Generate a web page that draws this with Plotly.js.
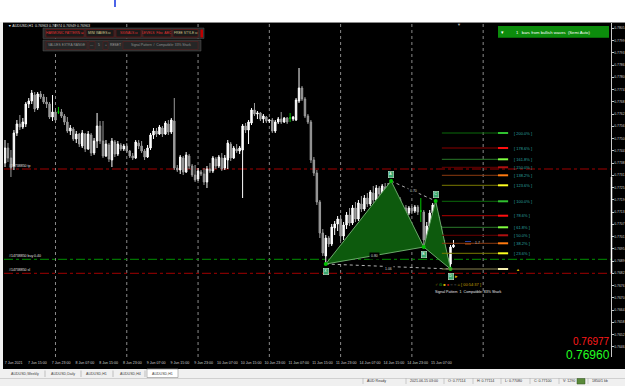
<!DOCTYPE html>
<html><head><meta charset="utf-8">
<script src="https://cdn.plot.ly/plotly-3.0.1.min.js"></script>
<style>html,body{margin:0;padding:0;background:#000;} #chart{width:625px;height:386px;}</style>
</head><body><div id="chart"></div>
<script>
// ---------------- DATA ----------------
const xTickIdx = [0,8,16,24,32,40,48,56,64,72,80,88,96,104,112,120,128,136,144];
const xTickText = ['7 Jun 2021','7 Jun 15:00','7 Jun 23:00','8 Jun 07:00','8 Jun 15:00','8 Jun 23:00','9 Jun 07:00','9 Jun 15:00','9 Jun 23:00','10 Jun 07:00','10 Jun 15:00','10 Jun 23:00','11 Jun 07:00','11 Jun 15:00','11 Jun 23:00','14 Jun 07:00','14 Jun 15:00','14 Jun 23:00','15 Jun 07:00'];
const dayStartIdx = [17,41,65,89,113,137,161];
const yTickVals = [0.78049,0.77987,0.77926,0.77865,0.77804,0.77742,0.77681,0.77620,0.77559,0.77497,0.77436,0.77375,0.77314,0.77252,0.77191,0.77130,0.77069,0.77007,0.76946,0.76885,0.76824,0.76762,0.76701,0.76640,0.76579,0.76517,0.76456];

const openP = [0.77375,0.7745,0.774,0.7736,0.77525,0.7757,0.77555,0.7757,0.7767,0.77685,
0.77715,0.7765,0.7772,0.77705,0.7768,0.7767,0.77605,0.7763,0.7763,0.7763,
0.7761,0.7758,0.77535,0.77545,0.77495,0.7752,0.7746,0.7752,0.77445,0.77515,
0.77425,0.77485,0.7756,0.77485,0.7741,0.77465,0.7739,0.7748,0.7742,0.77465,
0.77445,0.7746,0.77435,0.7741,0.774,0.77475,0.7746,0.77435,0.77405,0.7745,
0.77515,0.77535,0.7752,0.7755,0.7752,0.7757,0.7753,0.77585,0.7735,0.7734,
0.774,0.7733,0.7741,0.7736,0.77315,0.77295,0.7733,0.7732,0.7728,0.77345,
0.77335,0.77395,0.7736,0.774,0.7735,0.7739,0.7747,0.774,0.77445,0.77435,
0.7744,0.7756,0.7754,0.77575,0.7764,0.7762,0.77625,0.77595,0.77605,0.77585,
0.7759,0.77535,0.7758,0.77595,0.7758,0.776,0.776,0.77595,0.7759,0.77685,
0.7775,0.77695,0.7761,0.7758,0.7739,0.77325,0.7718,0.77025,0.7691,0.77,
0.7697,0.7705,0.7707,0.77095,0.7701,0.77065,0.77115,0.77075,0.7715,0.77095,
0.7717,0.77145,0.772,0.7717,0.77225,0.7719,0.7725,0.7722,0.77255,0.7724,
0.7726,0.77205,0.77155,0.77195,0.77115,0.7715,0.77125,0.7715,0.77135,0.77155,
0.77135,0.7713,0.7699,0.7706,0.77125,0.77165,0.77105,0.7701,0.7696,0.769,
0.7687,0.76955];
const highP = [0.7749,0.77475,0.7744,0.7754,0.7759,0.77615,0.776,0.7768,0.777,0.7774,
0.7773,0.7773,0.77735,0.7772,0.77705,0.7768,0.77715,0.7764,0.77655,0.77645,
0.7762,0.77605,0.77565,0.77555,0.77535,0.77525,0.7754,0.77525,0.77535,0.77525,
0.775,0.77625,0.77585,0.77585,0.7749,0.77475,0.775,0.7749,0.77485,0.77475,
0.7747,0.77475,0.7744,0.77425,0.7749,0.7749,0.77485,0.77445,0.77465,0.77525,
0.7755,0.7755,0.77565,0.7756,0.77585,0.7759,0.776,0.777,0.77365,0.77415,
0.7741,0.7743,0.7742,0.7737,0.77365,0.7735,0.7734,0.7735,0.7736,0.77375,
0.7741,0.77405,0.77415,0.77425,0.77415,0.7749,0.7748,0.7746,0.7747,0.7746,
0.7757,0.77575,0.7759,0.7765,0.77675,0.77635,0.7763,0.7762,0.7761,0.77595,
0.776,0.7759,0.77605,0.7763,0.77605,0.77605,0.77625,0.7761,0.777,0.7785,
0.7776,0.77705,0.7762,0.7759,0.77405,0.7734,0.7719,0.77045,0.77015,0.7701,
0.7707,0.77085,0.7711,0.77115,0.7708,0.7713,0.7715,0.77165,0.7718,0.7719,
0.7721,0.77215,0.77225,0.7724,0.7726,0.77265,0.7726,0.7727,0.77275,0.77275,
0.77285,0.7724,0.7721,0.77205,0.7716,0.77165,0.7716,0.7716,0.77165,0.77165,
0.772,0.7714,0.7708,0.7714,0.77175,0.77185,0.77115,0.7706,0.7699,0.76925,
0.76965,0.7699];
const lowP = [0.77355,0.7738,0.77305,0.7734,0.7751,0.7754,0.77545,0.77555,0.7765,0.7767,
0.7763,0.7764,0.77695,0.7767,0.7765,0.77595,0.77585,0.77575,0.7762,0.776,
0.77565,0.77525,0.77515,0.77485,0.77475,0.77455,0.7745,0.7743,0.7744,0.7741,
0.77415,0.7745,0.7747,0.774,0.77405,0.7738,0.77355,0.77405,0.7741,0.77435,
0.77435,0.77425,0.774,0.7739,0.77395,0.77445,0.77425,0.7739,0.774,0.7744,
0.77495,0.77505,0.77515,0.77505,0.77515,0.77515,0.7752,0.7734,0.7733,0.7732,
0.77315,0.77325,0.77345,0.77305,0.7728,0.77285,0.7731,0.77265,0.7725,0.77325,
0.77325,0.77345,0.7735,0.77335,0.7734,0.77345,0.77385,0.77395,0.77425,0.7742,
0.772,0.77525,0.7747,0.77565,0.7761,0.77595,0.77585,0.77575,0.77575,0.77575,
0.77525,0.77525,0.7757,0.7757,0.77575,0.7757,0.7758,0.77585,0.77585,0.77675,
0.77685,0.776,0.7757,0.77375,0.7731,0.77165,0.77,0.7691,0.7687,0.76955,
0.7696,0.77015,0.77035,0.76985,0.7699,0.77045,0.7706,0.77065,0.7708,0.77085,
0.7713,0.77135,0.77155,0.7716,0.77175,0.7718,0.77205,0.7721,0.77225,0.7723,
0.7719,0.7714,0.7713,0.771,0.77105,0.7711,0.77115,0.7712,0.77125,0.77115,
0.7708,0.76955,0.7697,0.77045,0.7711,0.7709,0.7699,0.7694,0.7688,0.7686,
0.76845,0.7695];
const closeP = [0.7745,0.774,0.7735,0.77525,0.7757,0.77555,0.7758,0.7767,0.77685,0.77725,
0.77645,0.7772,0.77705,0.7768,0.7767,0.77605,0.7763,0.7759,0.7763,0.7761,
0.7758,0.77535,0.7755,0.77495,0.7752,0.7747,0.77525,0.77445,0.7752,0.77425,
0.77485,0.7756,0.77485,0.7741,0.7747,0.77395,0.77485,0.7742,0.7747,0.77445,
0.7746,0.77435,0.7741,0.774,0.7748,0.7746,0.77435,0.77405,0.7745,0.77515,
0.77535,0.7752,0.77555,0.7752,0.77575,0.7753,0.7759,0.7735,0.7734,0.77405,
0.7733,0.77415,0.7736,0.77315,0.7729,0.77335,0.7732,0.7728,0.77345,0.77335,
0.774,0.7736,0.77405,0.77345,0.774,0.77475,0.774,0.7745,0.77435,0.7745,
0.7756,0.7754,0.7758,0.7764,0.7762,0.77625,0.77595,0.7761,0.77585,0.7759,
0.77535,0.7758,0.77595,0.7758,0.776,0.7758,0.776,0.77605,0.7769,0.7775,
0.77695,0.7761,0.7758,0.7739,0.77325,0.7718,0.77025,0.76925,0.77,0.7697,
0.77055,0.7707,0.77095,0.7701,0.77065,0.77115,0.77075,0.7715,0.77095,0.77175,
0.77145,0.772,0.7717,0.7723,0.7719,0.7725,0.7722,0.7726,0.7724,0.7726,
0.77205,0.77155,0.77195,0.77115,0.7715,0.77125,0.7715,0.77135,0.77155,0.7713,
0.77135,0.7699,0.7706,0.77125,0.77165,0.77105,0.7701,0.7696,0.769,0.7687,
0.76955,0.76965];
const dojiIdx = [18,96,140];

const patNames = ['X','A','B','C','D'];
const patIdx = [108,130,141,145,150];
const patPrice = [0.7687,0.77285,0.76955,0.77185,0.76845];
const ratioText = ['0.80','0.70','1.06']; // on XB, AC, XD

const fibText = ['200.0%','178.6%','161.8%','150.0%','138.2%','123.6%','100.0%','78.6%','61.8%','50.0%','38.2%','23.6%'];
const fibPrice = [0.77525,0.7745,0.773935,0.773535,0.773135,0.772635,0.771835,0.771115,0.770535,0.770135,0.769735,0.769235];
const fibZeroPrice = 0.76845;

const orderNames = ['#14738850 tp','#14738850 buy 0.40','#14738850 sl'];
const orderPrice = [0.77345,0.768935,0.768235];
const askBid = ['0.76977','0.76960'];

// ---------------- STYLES ----------------
const fibDark = ['#0b6a0b','#8b0000','#2a7a2a','#6a0000','#8b3a10','#7a7a00','#0b6a0b','#b00000','#2a7a2a','#6a0000','#8b3a10','#7a7a00'];
const fibBright = ['#30c030','#ff1010','#80ff40','#b01010','#ff7a10','#ffff20','#30c030','#ff1010','#80ff40','#b01010','#ff7a10','#ffff20'];

const L=4, R=611, T=23, B=357, W=R-L, H=B-T;
const xp = px => (px-L)/W;
const yp = py => (B-py)/H;
const FONT = 'Liberation Sans, Arial, sans-serif';
const LABEL_SHIFT_BARS = 2.9; // MT4 draws time labels starting at the bar

const idx = openP.map((_,i)=>i);
const normal = idx.filter(i=>dojiIdx.indexOf(i)<0);
const pick = (arr, ids) => ids.map(i=>arr[i]);

const traces = [];
traces.push({type:'scatter', mode:'lines', x:[patIdx[0],patIdx[1],patIdx[2],patIdx[0]], y:[patPrice[0],patPrice[1],patPrice[2],patPrice[0]],
  fill:'toself', fillcolor:'#0d5a0d', line:{color:'#6aaa6a',width:1}, hoverinfo:'skip', showlegend:false});
traces.push({type:'scatter', mode:'lines', x:[patIdx[2],patIdx[3],patIdx[4],patIdx[2]], y:[patPrice[2],patPrice[3],patPrice[4],patPrice[2]],
  fill:'toself', fillcolor:'#0d5a0d', line:{color:'#6aaa6a',width:1}, hoverinfo:'skip', showlegend:false});
traces.push({type:'scatter', mode:'lines', x:[patIdx[1],patIdx[3]], y:[patPrice[1],patPrice[3]], line:{color:'#b0b0b0',width:1,dash:'dot'}, hoverinfo:'skip', showlegend:false});
traces.push({type:'scatter', mode:'lines', x:[patIdx[0],patIdx[4]], y:[patPrice[0],patPrice[4]], line:{color:'#b0b0b0',width:1,dash:'dot'}, hoverinfo:'skip', showlegend:false});
traces.push({type:'candlestick', x:normal, open:pick(openP,normal), high:pick(highP,normal), low:pick(lowP,normal), close:pick(closeP,normal),
  increasing:{line:{color:'#ffffff',width:1}, fillcolor:'#ffffff'},
  decreasing:{line:{color:'#9a9a9a',width:1}, fillcolor:'#9a9a9a'},
  whiskerwidth:0, hoverinfo:'skip', showlegend:false});
traces.push({type:'candlestick', x:dojiIdx, open:pick(openP,dojiIdx), high:pick(highP,dojiIdx), low:pick(lowP,dojiIdx), close:pick(closeP,dojiIdx),
  increasing:{line:{color:'#00c800',width:1}, fillcolor:'#00c800'},
  decreasing:{line:{color:'#00c800',width:1}, fillcolor:'#00c800'},
  whiskerwidth:0, hoverinfo:'skip', showlegend:false});
traces.push({type:'scatter', mode:'markers', x:patIdx, y:patPrice, marker:{color:'#00c000',size:4}, hoverinfo:'skip', showlegend:false});

const shapes = [];
const annotations = [];
const A = o => annotations.push(Object.assign({xanchor:'center', yanchor:'middle', showarrow:false}, o));
const P = (px,py) => ({xref:'paper', yref:'paper', x:xp(px), y:yp(py)});

dayStartIdx.forEach(d=>shapes.push({type:'line', xref:'x', yref:'paper', x0:d, x1:d, y0:0, y1:1, line:{color:'#8a8a8a',width:1,dash:'dot'}, layer:'below'}));
const orderColors = ['#a00000','#009000','#a00000'];
orderPrice.forEach((p,k)=>{
  shapes.push({type:'line', xref:'paper', yref:'y', x0:0, x1:1, y0:p, y1:p, line:{color:orderColors[k],width:1,dash:'dashdot'}, layer:'below'});
  A({xref:'paper', yref:'y', x:xp(7), y:p, yshift:3, xanchor:'left', text:orderNames[k], font:{family:FONT,size:3.5,color:'#e0e0e0'}});
});
const fibX0=147.1, fibX1=166, fibX2=169.4, fibLab=170.7;
fibPrice.forEach((p,k)=>{
  shapes.push({type:'line', xref:'x', yref:'y', x0:fibX0, x1:fibX1, y0:p, y1:p, line:{color:fibDark[k],width:1}});
  shapes.push({type:'line', xref:'x', yref:'y', x0:fibX1, x1:fibX2, y0:p, y1:p, line:{color:fibBright[k],width:2}});
  A({xref:'x', yref:'y', x:fibLab, y:p, xanchor:'left', text:'[ '+fibText[k]+' ]', font:{family:FONT,size:4,color:'#2aa0a0'}});
});
shapes.push({type:'line', xref:'x', yref:'y', x0:fibX0, x1:fibX1, y0:fibZeroPrice, y1:fibZeroPrice, line:{color:'#8a8450',width:1}});
shapes.push({type:'line', xref:'x', yref:'y', x0:fibX1, x1:fibX2, y0:fibZeroPrice, y1:fibZeroPrice, line:{color:'#f5f0b0',width:2}});
A({xref:'x', yref:'y', x:fibLab+0.6, y:fibZeroPrice, xanchor:'left', text:'▲', font:{family:FONT,size:4,color:'#e0c000'}});

patNames.forEach((n,k)=>{
  const up = (n==='A'||n==='C');
  A({xref:'x', yref:'y', x:patIdx[k], y:patPrice[k], yshift: up?7:-7, text:n,
    bgcolor:'#3aa870', bordercolor:'#d8f0d8', borderwidth:0.5, borderpad:0.8, font:{family:FONT,size:3.5,color:'#ffffff'}});
});
A({xref:'x', yref:'y', x:patIdx[4], y:patPrice[4], yshift:-7, xshift:6, text:'▸', font:{family:FONT,size:5,color:'#e0c000'}});
const ratioPos = [[(patIdx[0]+patIdx[2])/2,(patPrice[0]+patPrice[2])/2],[(patIdx[1]+patIdx[3])/2,(patPrice[1]+patPrice[3])/2],[(patIdx[0]+patIdx[4])/2,(patPrice[0]+patPrice[4])/2]];
ratioText.forEach((t,k)=>A({xref:'x', yref:'y', x:ratioPos[k][0], y:ratioPos[k][1], yshift:(k===2?-2:0), text:t, bgcolor:'#000', font:{family:FONT,size:3.5,color:'#d0d0d0'}}));

shapes.push({type:'line', xref:'paper', yref:'paper', x0:xp(465), x1:xp(471), y0:yp(241.5), y1:yp(241.5), line:{color:'#2040a0',width:1}});
shapes.push({type:'line', xref:'paper', yref:'paper', x0:xp(465), x1:xp(471), y0:yp(244), y1:yp(244), line:{color:'#c05010',width:1}});
A(Object.assign(P(473,243), {xanchor:'left', text:'1.7', font:{family:FONT,size:3.5,color:'#c0c0c0'}}));

A(Object.assign(P(433,284), {xanchor:'left',
  text:'<span style="color:#d8b000">♂</span> <span style="color:#20c020">⊙</span> <span style="color:#d8b000">■</span> <span style="color:#e02020">●</span> <span style="color:#909090">○</span> <span style="color:#909090">○</span> <span style="color:#d8b000">⌂</span> <span style="color:#c8a000">[ 00:54:37 ]</span>',
  font:{family:FONT,size:4,color:'#d8b000'}}));
A(Object.assign(P(433,291.5), {xanchor:'left', text:'Signal Pattern  1  Compatible: 83% Shark', font:{family:FONT,size:3.6,color:'#e8e8e8'}}));

A(Object.assign(P(6,26), {xanchor:'left', text:'▼ AUDUSD,H1  0.76963 0.76974 0.76949 0.76963', font:{family:FONT,size:3.6,color:'#e0e0e0'}}));
A(Object.assign(P(459,24.5), {text:'▼', font:{family:FONT,size:4,color:'#b0b0b0'}}));

// top panel
shapes.push({type:'rect', xref:'paper', yref:'paper', x0:xp(43), x1:xp(204), y0:yp(38.5), y1:yp(28), fillcolor:'#2a2a2a', line:{color:'#555',width:0.5}});
shapes.push({type:'rect', xref:'paper', yref:'paper', x0:xp(43), x1:xp(201), y0:yp(51), y1:yp(40), fillcolor:'#2a2a2a', line:{color:'#555',width:0.5}});
const btns = [[46,84,'HARMONIC PATTERN ⊟','#e03030'],[86,114,'MINI WAVES ⊡','#d8c890'],[116,141,'SIGNALS ⊡','#e03030'],[143,171,'LEVELS  Fibo  ABC','#e03030'],[173,198,'FREE STYLE ⊡','#d8c890']];
btns.forEach(b=>{
  shapes.push({type:'rect', xref:'paper', yref:'paper', x0:xp(b[0]), x1:xp(b[1]), y0:yp(37), y1:yp(29.5), fillcolor:'#1a1a1a', line:{color:'#7a1010',width:0.6}});
  A(Object.assign(P((b[0]+b[1])/2,33.3), {text:b[2], font:{family:FONT,size:3.3,color:b[3]}}));
});
shapes.push({type:'rect', xref:'paper', yref:'paper', x0:xp(200.5), x1:xp(203), y0:yp(37.5), y1:yp(29.5), fillcolor:'#c00000', line:{width:0}});
const row2 = [[46,87,'VALUES EXTRA RANGE'],[89,95,'—'],[103,108,'+'],[123,198,'Signal Pattern  /  Compatible: 33% Shark']];
row2.forEach(b=>{
  shapes.push({type:'rect', xref:'paper', yref:'paper', x0:xp(b[0]), x1:xp(b[1]), y0:yp(49.5), y1:yp(41.5), fillcolor:'#262626', line:{color:'#5a2020',width:0.6}});
  A(Object.assign(P((b[0]+b[1])/2,45.5), {text:b[2], font:{family:FONT,size:3.3,color:'#909090'}}));
});
A(Object.assign(P(98.5,45.5), {text:'5', font:{family:FONT,size:3.3,color:'#a0a0a0'}}));
A(Object.assign(P(115,45.5), {text:'RESET', font:{family:FONT,size:3.3,color:'#a0a0a0'}}));

// green info box
shapes.push({type:'rect', xref:'paper', yref:'paper', x0:xp(498), x1:xp(609), y0:yp(37.7), y1:yp(26), fillcolor:'#0c8c0c', line:{width:0}});
A(Object.assign(P(502,32), {text:'▾', font:{family:FONT,size:4.5,color:'#ffffff'}}));
A(Object.assign(P(553,32), {text:'1   bars from bullish waves  (Semi Auto)', font:{family:FONT,size:4.2,color:'#ffffff'}}));

shapes.push({type:'line', xref:'paper', yref:'paper', x0:xp(611.5), x1:xp(611.5), y0:yp(273), y1:yp(177), line:{color:'#ffffff',width:1.5}});

A(Object.assign(P(611,341.5), {xanchor:'right', text:askBid[0], font:{family:FONT,size:10,color:'#ff1a1a'}, borderpad:0}));
A(Object.assign(P(611,355), {xanchor:'right', text:askBid[1], font:{family:FONT,size:12,color:'#22ff22'}, borderpad:0}));

// window chrome
shapes.push({type:'rect', xref:'paper', yref:'paper', x0:xp(0), x1:xp(625), y0:yp(22), y1:yp(0), fillcolor:'#ffffff', line:{width:0}});
shapes.push({type:'line', xref:'paper', yref:'paper', x0:xp(0), x1:xp(625), y0:yp(22.5), y1:yp(22.5), line:{color:'#8a8a8a',width:1}});
shapes.push({type:'line', xref:'paper', yref:'paper', x0:xp(115), x1:xp(115), y0:yp(7), y1:yp(0), line:{color:'#1030e0',width:1.5}});
shapes.push({type:'rect', xref:'paper', yref:'paper', x0:xp(0), x1:xp(3), y0:yp(369), y1:yp(22), fillcolor:'#f0f0f0', line:{width:0}});
shapes.push({type:'rect', xref:'paper', yref:'paper', x0:xp(0), x1:xp(625), y0:yp(386), y1:yp(369), fillcolor:'#f0f0f0', line:{width:0}});
shapes.push({type:'line', xref:'paper', yref:'paper', x0:xp(0), x1:xp(625), y0:yp(378.5), y1:yp(378.5), line:{color:'#d0d0d0',width:1}});
shapes.push({type:'rect', xref:'paper', yref:'paper', x0:xp(147), x1:xp(178), y0:yp(377.5), y1:yp(369), fillcolor:'#ffffff', line:{color:'#909090',width:0.6}});
const tabs = [[25,'AUDUSD,Weekly'],[63,'AUDUSD,Daily'],[96,'AUDUSD,H1'],[130,'AUDUSD,H4'],[162.5,'AUDUSD,H1']];
tabs.forEach(t=>A(Object.assign(P(t[0],373.5), {text:t[1], font:{family:FONT,size:3.6,color:'#404040'}})));
[45,81,113,145].forEach(s=>shapes.push({type:'line', xref:'paper', yref:'paper', x0:xp(s), x1:xp(s), y0:yp(377), y1:yp(370.5), line:{color:'#a0a0a0',width:0.6}}));
const status = [[365,'AUD Ready'],[408,'2021.06.15 03:00'],[446,'O: 0.77114'],[475,'H: 0.77114'],[503,'L: 0.77080'],[532,'C: 0.77100'],[561,'V: 1290'],[590,'1850/1 kb']];
status.forEach(s=>{
  shapes.push({type:'line', xref:'paper', yref:'paper', x0:xp(s[0]-2), x1:xp(s[0]-2), y0:yp(384), y1:yp(378), line:{color:'#b0b0b0',width:0.6}});
  A(Object.assign(P(s[0],381), {xanchor:'left', text:s[1], font:{family:FONT,size:3.6,color:'#303030'}}));
});
shapes.push({type:'rect', xref:'paper', yref:'paper', x0:xp(577), x1:xp(585), y0:yp(384), y1:yp(378.5), fillcolor:'#5a8a3a', line:{color:'#305020',width:0.5}});

const layout = {
  width:625, height:386,
  margin:{l:L, r:625-R, t:T, b:386-B},
  paper_bgcolor:'#000000', plot_bgcolor:'#000000',
  showlegend:false,
  xaxis:{range:[-0.337,204.04], tickmode:'array', tickvals:xTickIdx.map(i=>i+LABEL_SHIFT_BARS), ticktext:xTickText, ticks:'', showgrid:false, zeroline:false, showline:false,
    tickfont:{family:FONT,size:3.6,color:'#d0d0d0'}, ticklabelstandoff:2, rangeslider:{visible:false}, fixedrange:true},
  yaxis:{range:[0.76405,0.78075], side:'right', tickmode:'array', tickvals:yTickVals, ticktext:yTickVals.map(v=>v.toFixed(4)),
    showgrid:false, zeroline:false, showline:true, linecolor:'#c8c8c8', linewidth:1, ticks:'outside', ticklen:1.5, tickcolor:'#c8c8c8',
    tickfont:{family:FONT,size:3.4,color:'#d0d0d0'}, ticklabelstandoff:0.5, fixedrange:true},
  shapes:shapes, annotations:annotations
};
Plotly.newPlot('chart', traces, layout, {displayModeBar:false, staticPlot:true});
</script></body></html>
